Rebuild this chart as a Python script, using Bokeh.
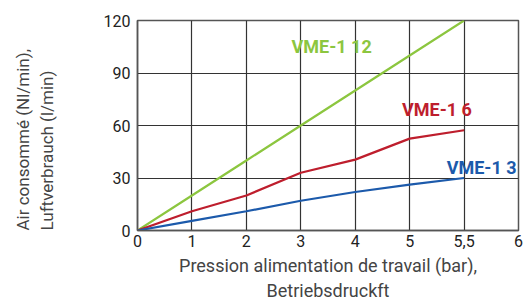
from bokeh.plotting import figure
from bokeh.models import FixedTicker, Range1d, Label, Title
from bokeh.embed import file_html
from bokeh.resources import INLINE

# Data
x_labels = ["0", "1", "2", "3", "4", "5", "5,5", "6"]
pressures = ["0", "1", "2", "3", "4", "5", "5,5"]
vme12 = [0, 20, 40, 60, 80, 100, 120]
vme6 = [0, 11, 20, 33, 40.5, 52.5, 57.3]
vme3 = [0, 5.5, 11, 17, 22, 26.2, 30]
y_ticks = [0, 30, 60, 90, 120]

series = [
    ("VME-1 12", vme12, "#8cc63f", 2.83, 105),
    ("VME-1 6", vme6, "#be1e2d", 4.86, 69),
    ("VME-1 3", vme3, "#1c5aab", 5.68, 36),
]

FONT = "Roboto"

p = figure(width=525, height=303, output_backend="svg", toolbar_location=None,
           x_range=Range1d(0, len(x_labels) - 1), y_range=Range1d(0, 120),
           min_border_left=137, min_border_right=7, min_border_top=20, min_border_bottom=71)

p.background_fill_color = "white"
p.outline_line_color = "#555555"
p.outline_line_width = 1.5

xs = [x_labels.index(v) for v in pressures]
for name, ys, color, lx, ly in series:
    p.line(xs, ys, line_color=color, line_width=2.2)
    p.add_layout(Label(x=lx, y=ly, text=name, text_color=color, text_font=FONT,
                       text_font_size="18px", text_font_style="bold",
                       text_baseline="middle", text_align="left"))

# y axis title: a blank spacer panel, then the two-line title
spacer = Title(text="\u00a0", standoff=22, text_font=FONT, text_font_size="17px",
               text_color="white")
y_title = Title(text="Air consommé (Nl/min),\nLuftverbrauch (l/min)", align="left",
                offset=0, standoff=0, text_font=FONT, text_font_size="17px",
                text_font_style="normal", text_color="#444444", text_line_height=1.2)
p.add_layout(spacer, "left")
p.add_layout(y_title, "left")

p.xaxis.ticker = FixedTicker(ticks=list(range(len(x_labels))))
p.xaxis.major_label_overrides = {i: s for i, s in enumerate(x_labels)}
p.yaxis.ticker = FixedTicker(ticks=y_ticks)

for ax in (p.xaxis, p.yaxis):
    ax.major_tick_in = 0
    ax.major_tick_out = 0
    ax.minor_tick_in = 0
    ax.minor_tick_out = 0
    ax.axis_line_color = "#555555"
    ax.axis_line_width = 1.5
    ax.major_label_text_font = FONT
    ax.major_label_text_font_size = "16px"
    ax.major_label_text_color = "#222222"

p.xaxis.axis_label_text_font = FONT
p.xaxis.axis_label_text_font_size = "18px"
p.xaxis.axis_label_text_font_style = "normal"
p.xaxis.axis_label_text_color = "#444444"
p.xaxis.major_label_standoff = 4
p.yaxis.major_label_standoff = 7
p.xaxis.axis_label = "Pression alimentation de travail (bar),\nBetriebsdruckft"
p.xaxis.axis_label_standoff = 5

p.xgrid.ticker = p.xaxis.ticker
p.ygrid.ticker = p.yaxis.ticker
p.grid.grid_line_color = "#333333"
p.grid.grid_line_width = 1.2
p.grid.grid_line_alpha = 1

open("out.html", "w").write(file_html(p, INLINE))
